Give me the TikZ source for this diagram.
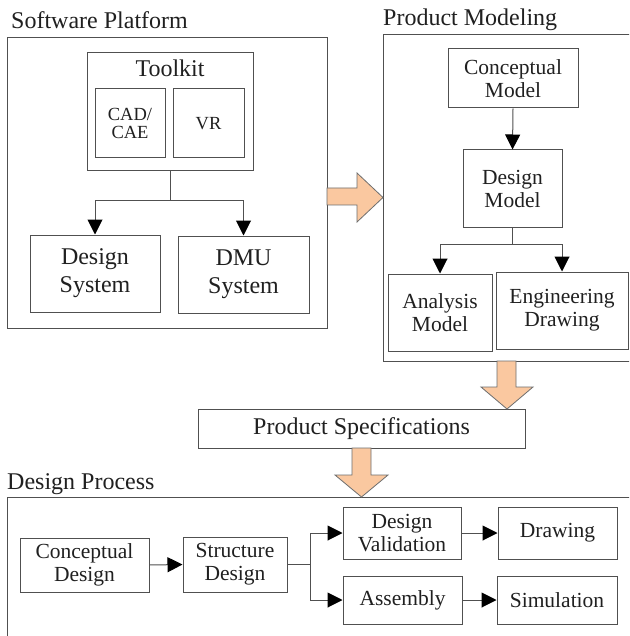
\documentclass[tikz,border=0pt]{standalone}
\usepackage{fontspec}
\setmainfont{Liberation Serif}
\usetikzlibrary{arrows.meta}
\definecolor{linecol}{HTML}{505050}
\definecolor{txtcol}{HTML}{202020}
\definecolor{peach}{HTML}{FAC8A0}
\definecolor{peachline}{HTML}{6E6E6E}
\tikzset{
  box/.style={draw=linecol, line width=1pt, align=center, inner sep=0pt, text=txtcol,
    font=\fontsize{21.5}{23}\selectfont},
  bigbox/.style={box, font=\fontsize{24}{28}\selectfont},
  smallbox/.style={box, font=\fontsize{18.5}{17.5}\selectfont},
  framebox/.style={draw=linecol, line width=1pt, inner sep=0pt, anchor=north west},
  titletext/.style={anchor=base west, inner sep=0pt, text=txtcol, font=\fontsize{24}{28}\selectfont},
  plainline/.style={draw=linecol, line width=1pt},
  conn/.style={draw=linecol, line width=1pt, -{Triangle[length=15pt,width=15pt,color=black]}},
  fatarrow/.style={draw=peachline, fill=peach, line width=0.8pt, line join=miter}
}
\begin{document}
\begin{tikzpicture}[x=1pt,y=-1pt]
\useasboundingbox (0,0) rectangle (629,636);
\clip (0,0) rectangle (629,636);
\fill[white] (0,0) rectangle (629,636);

% ---------- Software Platform ----------
\node[titletext] (sptitle) at (11,29) {Software Platform};
\node[framebox, minimum width=320, minimum height=291] (spframe) at (7,37) {};
\node[box, minimum width=166, minimum height=118] (toolkit) at (170,112) {};
\node[anchor=base, inner sep=0pt, text=txtcol, font=\fontsize{24}{28}\selectfont] (tktxt) at (170,77) {Toolkit};
\node[smallbox, minimum width=70, minimum height=69] (cad) at (130,123.5) {CAD/\\CAE};
\node[smallbox, minimum width=71, minimum height=69] (vr) at (208.5,123.5) {VR};
\node[bigbox, minimum width=130, minimum height=77] (dsys) at (95,273.5) {Design\\System};
\node[bigbox, minimum width=131, minimum height=77] (dmu) at (243.5,274.5) {DMU\\System};
\draw[plainline] (toolkit.south) -- ++(0,29) coordinate (tkj);
\draw[conn] (tkj) -| (dsys.north);
\draw[conn] (tkj) -| (dmu.north);

% ---------- Product Modeling ----------
\node[titletext] (pmtitle) at (383,26) {Product Modeling};
\node[framebox, minimum width=262, minimum height=327] (pmframe) at (383,34) {};
\node[box, minimum width=130, minimum height=59] (cm) at (513,78.5) {Conceptual\\Model};
\node[box, minimum width=99, minimum height=77] (dm) at (512.5,188.5) {Design\\Model};
\node[box, minimum width=104, minimum height=77] (am) at (440,312.5) {Analysis\\Model};
\node[box, minimum width=132, minimum height=77] (ed) at (562,310.5) {Engineering\\Drawing};
\draw[conn] (cm.south) -- (dm.north);
\draw[plainline] (dm.south) -- ++(0,17) coordinate (dmj);
\draw[conn] (dmj) -| (am.north);
\draw[conn] (dmj) -| (ed.north);

% ---------- Product Specifications ----------
\node[bigbox, minimum width=327, minimum height=39] (ps) at (361.5,428.5) {Product Specifications};

% ---------- Design Process ----------
\node[titletext] (dptitle) at (7,489) {Design Process};
\node[framebox, minimum width=640, minimum height=170] (dpframe) at (7,497) {};
\node[box, minimum width=129, minimum height=54] (cd) at (84.5,565) {Conceptual\\Design};
\node[box, minimum width=104, minimum height=55] (sd) at (235,564.5) {Structure\\Design};
\node[box, minimum width=118, minimum height=52] (dv) at (402,533) {Design\\Validation};
\node[box, minimum width=119, minimum height=52] (dr) at (557.5,533) {Drawing};
\node[box, minimum width=119, minimum height=48] (as) at (402.5,600) {Assembly};
\node[box, minimum width=120, minimum height=48] (sim) at (557,600) {Simulation};
\draw[conn] (cd.east) -- (sd.west);
\draw[plainline] (sd.east) -- ++(23,0) coordinate (sdj);
\draw[conn] (sdj) |- (dv.west);
\draw[conn] (sdj) |- (as.west);
\draw[conn] (dv.east) -- (dr.west);
\draw[conn] (as.east) -- (sim.west);

% ---------- Fat arrows ----------
\draw[fatarrow] (327,188) -- (357,188) -- (357,173) -- (383,197.5) -- (357,222) -- (357,205) -- (327,205) -- cycle;
\draw[fatarrow] (497,361) -- (497,387) -- (481,387) -- (507,409) -- (533,387) -- (516,387) -- (516,361) -- cycle;
\draw[fatarrow] (352,448) -- (352,475) -- (335,475) -- (361.5,497) -- (388,475) -- (371,475) -- (371,448) -- cycle;
\end{tikzpicture}
\end{document}
